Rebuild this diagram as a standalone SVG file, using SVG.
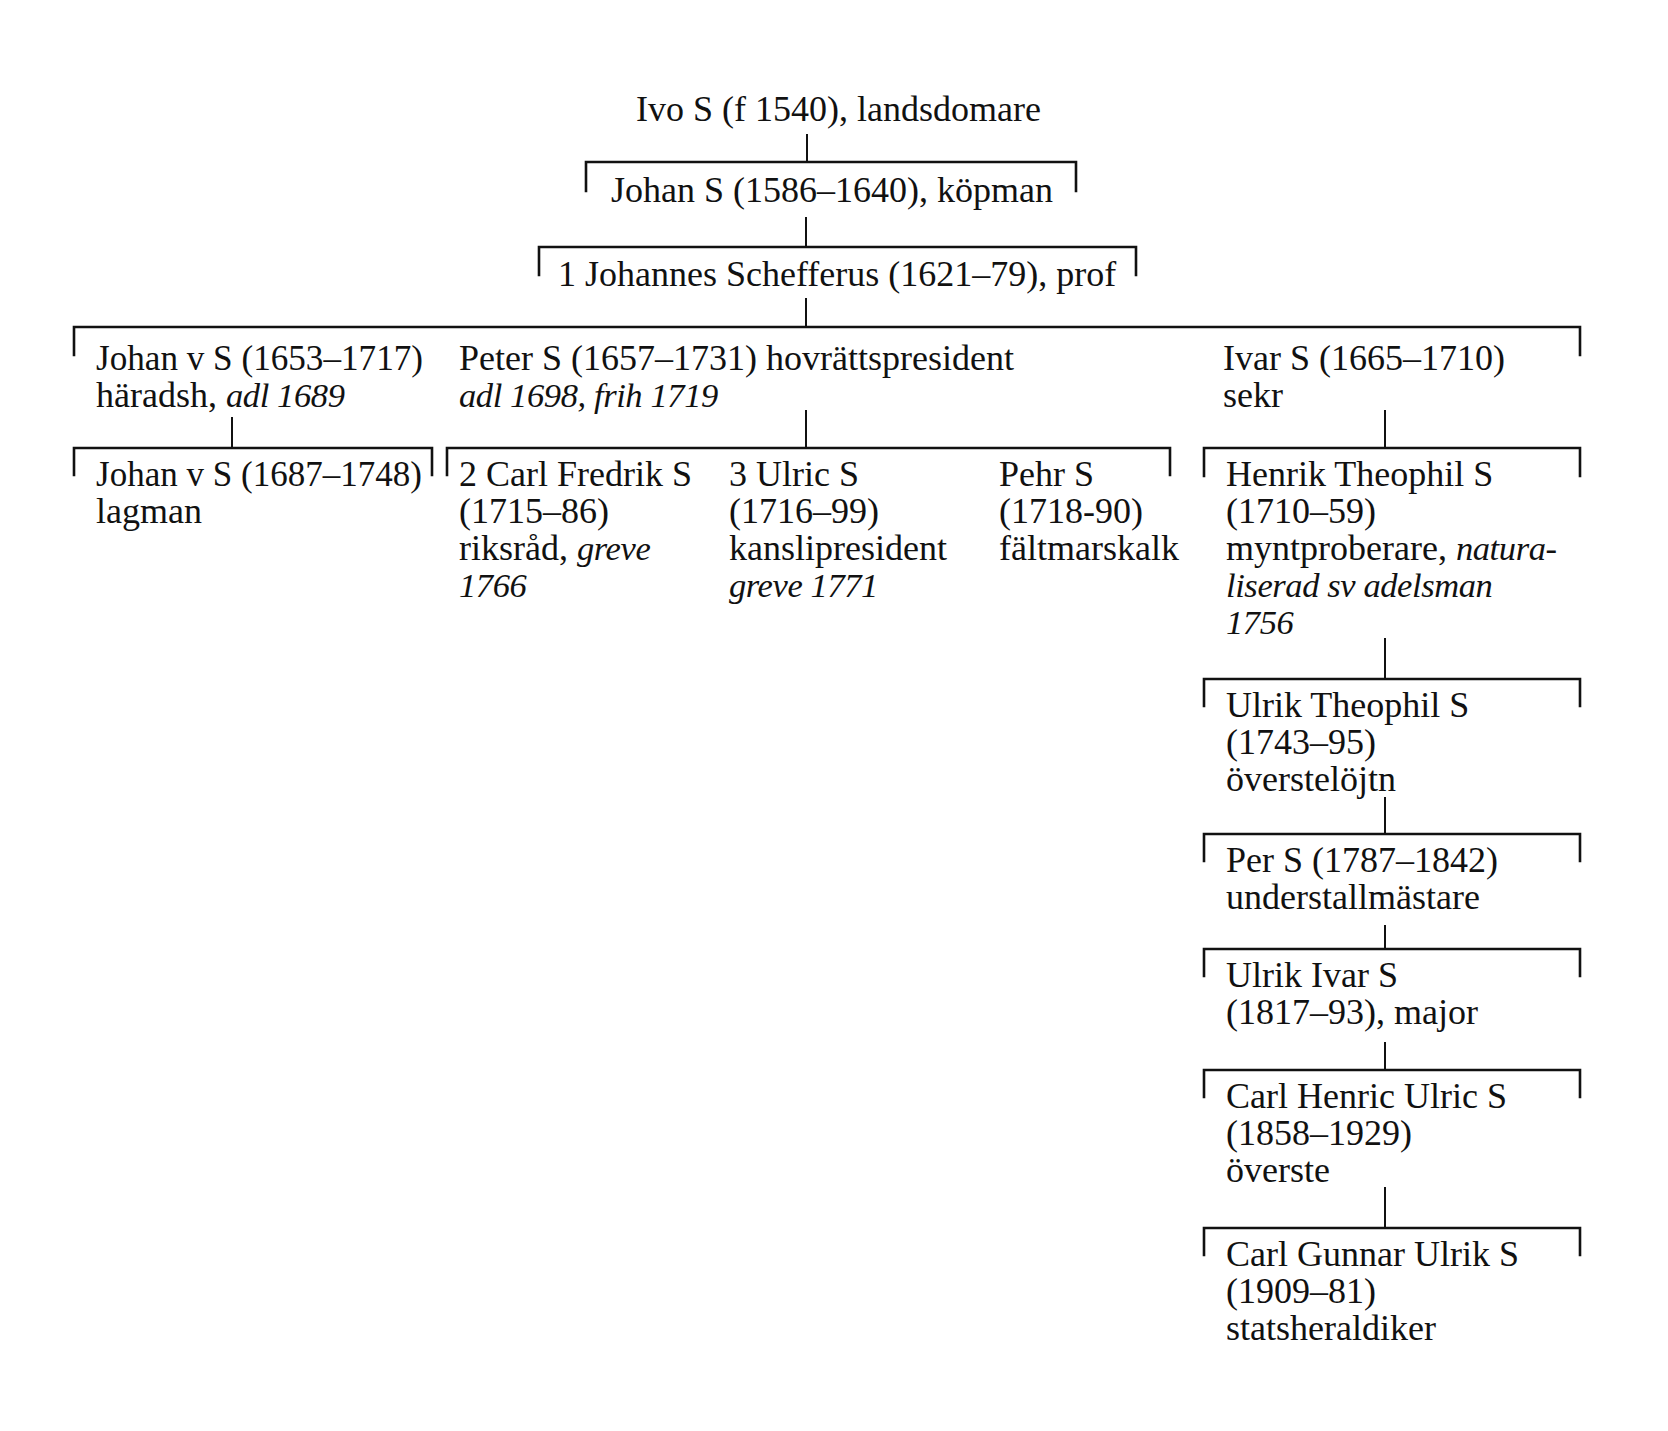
<svg xmlns="http://www.w3.org/2000/svg" width="1668" height="1431" viewBox="0 0 1668 1431">
<style>
  text { font-family: "Liberation Serif", "Times New Roman", serif; font-size: 36px; fill: #111; }
  .i { font-style: italic; font-size: 34.5px; letter-spacing: -0.4px; }
  .br { fill: none; stroke: #111; stroke-width: 2.6; stroke-linecap: square; }
  .v { fill: none; stroke: #111; stroke-width: 2; }
</style>
<rect width="1668" height="1431" fill="#fff"/>
<g id="connectors">
  <!-- Ivo -> Johan S -->
  <path class="v" d="M807 134 V162"/>
  <path class="br" d="M586 191 V162 H1076 V191"/>
  <!-- Johan S -> Johannes -->
  <path class="v" d="M806 217 V247"/>
  <path class="br" d="M539 275 V247 H1136 V275"/>
  <!-- Johannes -> children -->
  <path class="v" d="M806 298 V327"/>
  <path class="br" d="M74 355 V327 H1580 V355"/>
  <!-- Johan v S -> Johan v S -->
  <path class="v" d="M232 417 V448"/>
  <path class="br" d="M74 475 V448 H432 V475"/>
  <!-- Peter -> sons -->
  <path class="v" d="M806 410 V448"/>
  <path class="br" d="M447 475 V448 H1170 V475"/>
  <!-- Ivar -> Henrik -->
  <path class="v" d="M1385 410 V448"/>
  <path class="br" d="M1204 476 V448 H1580 V476"/>
  <!-- Henrik -> Ulrik Theophil -->
  <path class="v" d="M1385 638 V679"/>
  <path class="br" d="M1204 706 V679 H1580 V706"/>
  <!-- Ulrik Theophil -> Per -->
  <path class="v" d="M1385 797 V834"/>
  <path class="br" d="M1204 861 V834 H1580 V861"/>
  <!-- Per -> Ulrik Ivar -->
  <path class="v" d="M1385 925 V949"/>
  <path class="br" d="M1204 976 V949 H1580 V976"/>
  <!-- Ulrik Ivar -> Carl Henric -->
  <path class="v" d="M1385 1042 V1070"/>
  <path class="br" d="M1204 1097 V1070 H1580 V1097"/>
  <!-- Carl Henric -> Carl Gunnar -->
  <path class="v" d="M1385 1187 V1228"/>
  <path class="br" d="M1204 1255 V1228 H1580 V1255"/>
</g>
<g id="ivo"><text x="636" y="121">Ivo S (f 1540), landsdomare</text></g>
<g id="johan-s"><text x="611" y="202">Johan S (1586–1640), köpman</text></g>
<g id="johannes"><text x="558" y="286">1 Johannes Schefferus (1621–79), prof</text></g>
<g id="johan-v-s-1653">
  <text x="96" y="370" textLength="327" lengthAdjust="spacingAndGlyphs">Johan v S (1653–1717)</text>
  <text x="96" y="407">häradsh, <tspan class="i">adl 1689</tspan></text>
</g>
<g id="peter">
  <text x="459" y="370">Peter S (1657–1731) hovrättspresident</text>
  <text x="459" y="407" class="i">adl 1698, frih 1719</text>
</g>
<g id="ivar">
  <text x="1223" y="370">Ivar S (1665–1710)</text>
  <text x="1223" y="407">sekr</text>
</g>
<g id="johan-v-s-1687">
  <text x="96" y="486" textLength="326" lengthAdjust="spacingAndGlyphs">Johan v S (1687–1748)</text>
  <text x="96" y="523">lagman</text>
</g>
<g id="carl-fredrik">
  <text x="459" y="486">2 Carl Fredrik S</text>
  <text x="459" y="523">(1715–86)</text>
  <text x="459" y="560">riksråd, <tspan class="i">greve</tspan></text>
  <text x="459" y="597" class="i">1766</text>
</g>
<g id="ulric">
  <text x="729" y="486">3 Ulric S</text>
  <text x="729" y="523">(1716–99)</text>
  <text x="729" y="560">kanslipresident</text>
  <text x="729" y="597" class="i">greve 1771</text>
</g>
<g id="pehr">
  <text x="999" y="486">Pehr S</text>
  <text x="999" y="523">(1718-90)</text>
  <text x="999" y="560">fältmarskalk</text>
</g>
<g id="henrik">
  <text x="1226" y="486">Henrik Theophil S</text>
  <text x="1226" y="523">(1710–59)</text>
  <text x="1226" y="560">myntproberare, <tspan class="i">natura-</tspan></text>
  <text x="1226" y="597" class="i">liserad sv adelsman</text>
  <text x="1226" y="634" class="i">1756</text>
</g>
<g id="ulrik-theophil">
  <text x="1226" y="717">Ulrik Theophil S</text>
  <text x="1226" y="754">(1743–95)</text>
  <text x="1226" y="791">överstelöjtn</text>
</g>
<g id="per">
  <text x="1226" y="872">Per S (1787–1842)</text>
  <text x="1226" y="909">understallmästare</text>
</g>
<g id="ulrik-ivar">
  <text x="1226" y="987">Ulrik Ivar S</text>
  <text x="1226" y="1024">(1817–93), major</text>
</g>
<g id="carl-henric">
  <text x="1226" y="1108">Carl Henric Ulric S</text>
  <text x="1226" y="1145">(1858–1929)</text>
  <text x="1226" y="1182">överste</text>
</g>
<g id="carl-gunnar">
  <text x="1226" y="1266">Carl Gunnar Ulrik S</text>
  <text x="1226" y="1303">(1909–81)</text>
  <text x="1226" y="1340">statsheraldiker</text>
</g>
</svg>
